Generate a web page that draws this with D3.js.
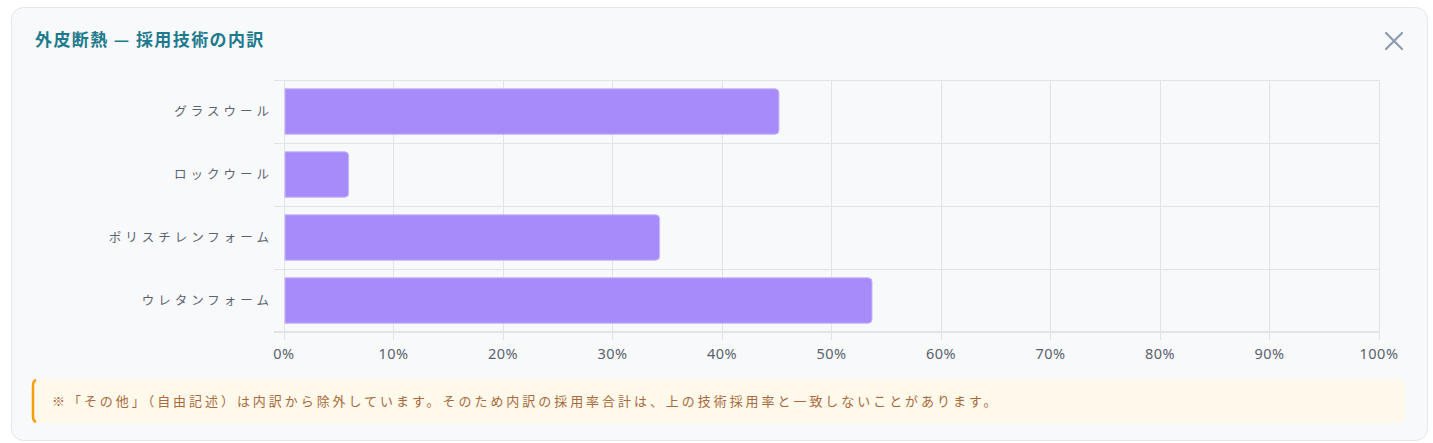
<!DOCTYPE html>
<html><head><meta charset="utf-8">
<script src="https://cdn.jsdelivr.net/npm/d3@7"></script>
<style>
html,body{margin:0;padding:0;background:#fff;}
body{font-family:"Noto Sans CJK JP","Noto Sans",sans-serif;}
</style></head>
<body>
<svg id="c" width="1433" height="443"></svg>
<script>
const categories = ["グラスウール","ロックウール","ポリスチレンフォーム","ウレタンフォーム"];
const values = [45.2, 5.9, 34.3, 53.7];
const ticks = [0,10,20,30,40,50,60,70,80,90,100];
const title = "外皮断熱 — 採用技術の内訳";
const note = "※「その他」（自由記述）は内訳から除外しています。そのため内訳の採用率合計は、上の技術採用率と一致しないことがあります。";

const svg = d3.select("#c");
// card
svg.append("rect").attr("x",11.5).attr("y",7.5).attr("width",1416).attr("height",433)
  .attr("rx",12).attr("fill","#f8f9fb").attr("stroke","#e4e7eb");
svg.append("text").attr("x",35).attr("y",46).text(title)
  .attr("font-size",17).attr("font-weight",700).attr("letter-spacing","1.4px").attr("fill","#1c7a8c");
// close X
const cx=1394, cy=41, s=8;
svg.append("path").attr("d",`M${cx-s},${cy-s}L${cx+s},${cy+s}M${cx+s},${cy-s}L${cx-s},${cy+s}`)
  .attr("stroke","#8d9bb0").attr("stroke-width",2.2).attr("stroke-linecap","round");

const x = d3.scaleLinear().domain([0,100]).range([284,1379]);
const y = d3.scaleBand().domain(categories).range([80,332]).paddingInner(0).paddingOuter(0);
const g = svg.append("g");
const grid = "#e2e3e6";
// vertical grid + ticks
g.selectAll(".vg").data(ticks).join("line")
  .attr("x1",d=>x(d)).attr("x2",d=>x(d)).attr("y1",80).attr("y2",340)
  .attr("stroke",grid).attr("stroke-width",1).attr("shape-rendering","crispEdges");
// horizontal grid
const hb = categories.map(c=>y(c)).concat([332]);
g.selectAll(".hg").data(hb).join("line")
  .attr("x1",274).attr("x2",1379).attr("y1",d=>d).attr("y2",d=>d)
  .attr("stroke",grid).attr("stroke-width",d=>d===332?1.5:1).attr("shape-rendering","crispEdges");

// bars
const bh = y.bandwidth()*0.72;
g.selectAll(".bar").data(values).join("path")
  .attr("d",(v,i)=>{
    const x0=x(0)+1, x1=x(v), y0=y(categories[i])+(y.bandwidth()-bh)/2, y1=y0+bh, r=4;
    return `M${x0},${y0}H${x1-r}Q${x1},${y0} ${x1},${y0+r}V${y1-r}Q${x1},${y1} ${x1-r},${y1}H${x0}Z`;
  })
  .attr("fill","#a78bfa").attr("stroke","#c4b5fd").attr("stroke-width",1);

// y labels
g.selectAll(".yl").data(categories).join("text")
  .attr("x",273).attr("y",c=>y(c)+y.bandwidth()/2+4)
  .attr("text-anchor","end").attr("font-size",12.5).attr("letter-spacing","4px")
  .attr("fill","#5c6370").text(c=>c);
// x labels
g.selectAll(".xl").data(ticks).join("text")
  .attr("x",d=>x(d)).attr("y",359).attr("text-anchor","middle")
  .attr("font-size",14.5).attr("letter-spacing","0.5px").attr("fill","#5a616c").attr("font-family","'Noto Sans',sans-serif").text(d=>d+"%");

// note box
svg.append("rect").attr("x",33).attr("y",379).attr("width",1372).attr("height",44).attr("rx",6)
  .attr("fill","#fef9ea");
svg.append("path").attr("d","M36,380 Q33,381 33,386 V416 Q33,421 36,422").attr("fill","none")
  .attr("stroke","#f59e0b").attr("stroke-width",2.5);
svg.append("text").attr("x",52).attr("y",406).attr("font-size",13).attr("fill","#a86a3d")
  .attr("letter-spacing","2.95px").text(note);
</script>
</body></html>
